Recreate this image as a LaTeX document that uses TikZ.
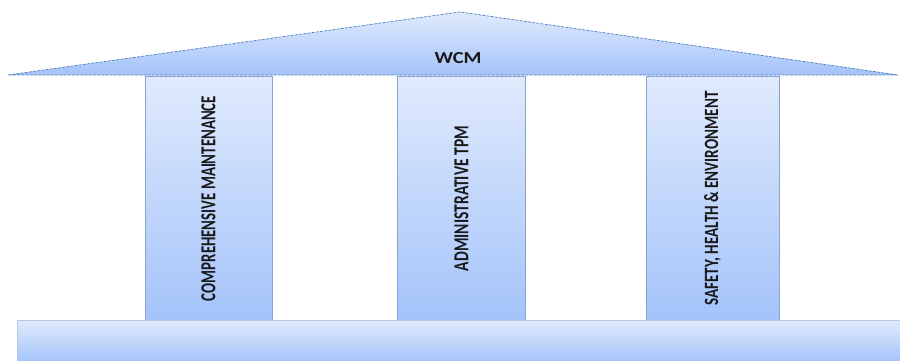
\documentclass[tikz,border=0pt]{standalone}
\usepackage{fontspec}
\setmainfont{Carlito}
\usepackage{graphicx}
\definecolor{shadetop}{RGB}{224,234,252}
\definecolor{shadebot}{RGB}{164,195,250}
\definecolor{edgeblue}{RGB}{138,163,205}
\definecolor{roofline}{RGB}{79,129,189}
\tikzset{
  pillar/.style={draw=edgeblue, line width=0.6pt, top color=shadetop, bottom color=shadebot,
    rectangle, inner sep=0pt, minimum height=245pt},
  pillartext/.style={rotate=90, inner sep=0pt, text=black!90, font=\bfseries},
  roof/.style={draw=roofline, line width=0.7pt, dash pattern=on 3pt off 1.2pt,
    top color=shadetop, bottom color=shadebot},
  plinth/.style={draw=edgeblue!60, line width=0.5pt, top color=shadetop, bottom color=shadebot,
    rectangle, inner sep=0pt}
}
\begin{document}
\begin{tikzpicture}[x=1pt,y=-1pt]
  \useasboundingbox (0,0) rectangle (900,361);
  % pillars
  \node[pillar, minimum width=127pt] (p1) at (208.5,198.5) {};
  \node[pillar, minimum width=128pt] (p2) at (461.5,198.5) {};
  \node[pillar, minimum width=133pt] (p3) at (712.5,198.5) {};
  \node[pillartext] (t1) at (p1.center) {\resizebox{205pt}{14pt}{COMPREHENSIVE MAINTENANCE}};
  \node[pillartext] (t2) at (p2.center) {\resizebox{145pt}{14pt}{ADMINISTRATIVE TPM}};
  \node[pillartext] (t3) at (p3.center) {\resizebox{214pt}{14pt}{SAFETY, HEALTH \& ENVIRONMENT}};
  % roof
  \coordinate (rl) at (8,75);
  \coordinate (ra) at (460,12);
  \coordinate (rr) at (898,75);
  \path[roof] (rl) -- (ra) -- (rr) -- cycle;
  \node[inner sep=0pt, text=black!90] (wcm) at (458,58) {\resizebox{47pt}{11pt}{\bfseries WCM}};
  % base
  \node[plinth, minimum width=884pt, minimum height=42pt] (base) at (459,341) {};
\end{tikzpicture}
\end{document}
